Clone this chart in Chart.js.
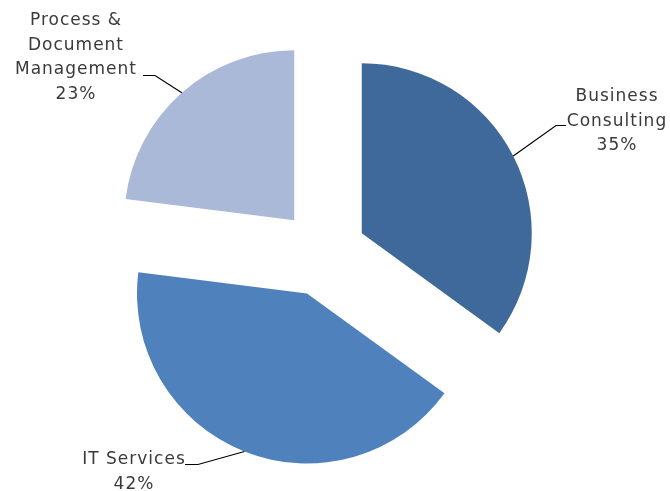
<!DOCTYPE html>
<html>
<head>
<meta charset="utf-8">
<script src="https://cdn.jsdelivr.net/npm/chart.js@4/dist/chart.umd.min.js"></script>
<style>
  html, body { margin: 0; padding: 0; background: #ffffff; }
  #wrap { width: 670px; height: 491px; position: relative; }
</style>
</head>
<body>
<div id="wrap"><canvas id="pie"></canvas></div>
<script>
// Revenue share by service line
const categories = ['Business Consulting', 'IT Services', 'Process & Document Management'];
const shares = [35, 42, 23];
const labelLines = [
  ['Business', 'Consulting', '35%'],
  ['IT Services', '42%'],
  ['Process &', 'Document', 'Management', '23%']
];
const sliceColors = ['#40699B', '#4F81BD', '#AAB9D8'];

// Layout of the callouts: text centre, first-line y, elbow of the leader line, end of the leader line
const calloutLayout = [
  { cx: 617, y: 97,  elbow: [556, 125.5], end: [566, 125.5] },
  { cx: 134, y: 460, elbow: [198, 464.5], end: [185, 464.5] },
  { cx: 76,  y: 21,  elbow: [155, 75.5],  end: [143, 75.5] }
];
const EXPLODE = 43.5;
const LINE_H = 24.5;

// Pulls each slice out along its bisector by a fixed distance
const explodePlugin = {
  id: 'explode',
  afterDatasetUpdate(chart, args) {
    args.meta.data.forEach(arc => {
      const mid = (arc.startAngle + arc.endAngle) / 2;
      arc.x += Math.cos(mid) * EXPLODE;
      arc.y += Math.sin(mid) * EXPLODE;
    });
  }
};

// Category name + percentage with a leader line from the slice edge
const calloutPlugin = {
  id: 'callouts',
  afterDatasetsDraw(chart) {
    const ctx = chart.ctx;
    const meta = chart.getDatasetMeta(0);
    ctx.save();
    meta.data.forEach((arc, i) => {
      const mid = (arc.startAngle + arc.endAngle) / 2;
      const px = arc.x + Math.cos(mid) * arc.outerRadius;
      const py = arc.y + Math.sin(mid) * arc.outerRadius;
      const c = calloutLayout[i];
      ctx.strokeStyle = '#000000';
      ctx.lineWidth = 1.2;
      ctx.beginPath();
      ctx.moveTo(px, py);
      ctx.lineTo(c.elbow[0], c.elbow[1]);
      ctx.lineTo(c.end[0], c.end[1]);
      ctx.stroke();

      ctx.fillStyle = '#3a3a3a';
      ctx.font = '17px "DejaVu Sans"';
      ctx.letterSpacing = '1px';
      ctx.textAlign = 'center';
      ctx.textBaseline = 'middle';
      labelLines[i].forEach((t, k) => {
        ctx.fillText(t, c.cx, c.y + k * LINE_H);
      });
    });
    ctx.restore();
  }
};

new Chart(document.getElementById('pie'), {
  type: 'pie',
  data: {
    labels: categories,
    datasets: [{
      data: shares,
      backgroundColor: sliceColors,
      borderWidth: 0
    }]
  },
  options: {
    responsive: true,
    maintainAspectRatio: false,
    animation: false,
    events: [],
    radius: 170,
    layout: { padding: { left: 0, right: 24, top: 15, bottom: 0 } },
    plugins: {
      legend: { display: false },
      tooltip: { enabled: false }
    }
  },
  plugins: [explodePlugin, calloutPlugin]
});
</script>
</body>
</html>
